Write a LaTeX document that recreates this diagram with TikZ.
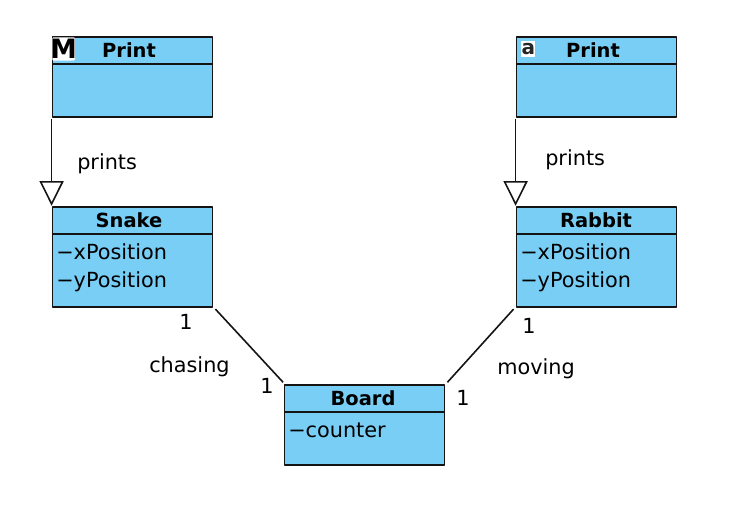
\documentclass[tikz,border=0pt]{standalone}
\usepackage{fontspec}
\setmainfont{DejaVu Sans}
\usetikzlibrary{arrows.meta}
\definecolor{classfill}{RGB}{120,206,245}
\definecolor{edgecol}{RGB}{20,20,20}
\newcommand{\pxfont}[1]{\fontsize{#1}{#1}\selectfont}
\tikzset{
  x=0.75pt,y=-0.75pt,
  classbox/.style={draw=edgecol,fill=classfill,line width=1.35pt,line join=round,anchor=north west,inner sep=0pt,minimum width=120pt},
  titletext/.style={font=\pxfont{14.6}\bfseries,text=black,inner sep=0pt,anchor=base},
  attrtext/.style={font=\pxfont{15.6},text=black,inner sep=0pt,anchor=base west},
  labeltext/.style={font=\pxfont{15.6},text=black,inner sep=0pt,anchor=base west},
  divider/.style={draw=edgecol,line width=1.35pt},
  link/.style={draw=edgecol,line width=1.2pt},
  inherit/.style={link,-{Triangle[open,length=18.5pt,width=18pt,line width=1.2pt]}},
}
\begin{document}
\begin{tikzpicture}
\useasboundingbox (0,0) rectangle (742,520);
% boxes
\node[classbox,minimum height=60.5pt] (printm) at (51.6,35.8) {};
\node[classbox,minimum height=60.5pt] (printa) at (515.6,35.8) {};
\node[classbox,minimum height=75pt] (snake) at (51.6,205.8) {};
\node[classbox,minimum height=75pt] (rabbit) at (515.6,205.8) {};
\node[classbox,minimum height=60pt] (board) at (283.6,383.8) {};
% dividers
\draw[divider] ([yshift=-21pt]printm.north west) -- ([yshift=-21pt]printm.north east);
\draw[divider] ([yshift=-21pt]printa.north west) -- ([yshift=-21pt]printa.north east);
\draw[divider] ([yshift=-21pt]snake.north west) -- ([yshift=-21pt]snake.north east);
\draw[divider] ([yshift=-21pt]rabbit.north west) -- ([yshift=-21pt]rabbit.north east);
\draw[divider] ([yshift=-21pt]board.north west) -- ([yshift=-21pt]board.north east);
% titles
\node[titletext] (tpm) at (129,57.5) {Print};
\node[titletext] (tpa) at (593,57.5) {Print};
\node[titletext] (tsn) at (129,227.5) {Snake};
\node[titletext] (trb) at (596,227.5) {Rabbit};
\node[titletext] (tbd) at (363,405.5) {Board};
% attributes
\node[attrtext] (sx) at (56,259.5) {−xPosition};
\node[attrtext] (sy) at (56,287.5) {−yPosition};
\node[attrtext] (rx) at (520,259.5) {−xPosition};
\node[attrtext] (ry) at (520,287.5) {−yPosition};
\node[attrtext] (bc) at (288,437.5) {−counter};
% icons
\node[fill=white,inner sep=0pt,minimum width=17pt,minimum height=17.5pt,anchor=north west,rounded corners=0.8pt] (iconm) at (52,37) {};
\node[font=\pxfont{20}\bfseries,inner sep=0pt,text=black] (iconmt) at (iconm.center) {M};
\node[fill=white,inner sep=0pt,minimum width=10.5pt,minimum height=12pt,anchor=north west] (icona) at (521,40.5) {};
\node[font=\pxfont{15}\bfseries,inner sep=0pt,text=black!85] (iconat) at (icona.center) {a};
% connectors
\draw[inherit] (printm.south west) ++(0,1) -- (snake.north west);
\draw[inherit] (printa.south west) ++(0,1) -- (rabbit.north west);
\draw[link] (snake.south east) ++(2,1.5) coordinate (s1) -- ([shift={(-0.5,-1.5)}]board.north west);
\draw[link] (rabbit.south west) ++(-2,1.5) coordinate (r1) -- ([shift={(2,-1.5)}]board.north east);
% labels
\node[labeltext] (lp1) at (77,170) {prints};
\node[labeltext] (lp2) at (545,166) {prints};
\node[labeltext] (lch) at (149,372) {chasing};
\node[labeltext] (lmv) at (497,374) {moving};
\node[labeltext] (n1) at (179,329.5) {1};
\node[labeltext] (n2) at (260,393.5) {1};
\node[labeltext] (n3) at (522,333.5) {1};
\node[labeltext] (n4) at (456,405.5) {1};
\end{tikzpicture}
\end{document}
